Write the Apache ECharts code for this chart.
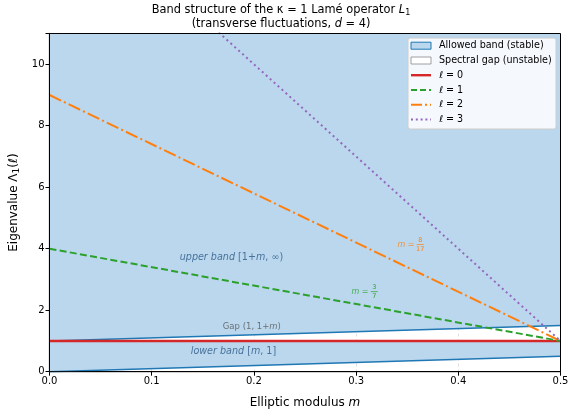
<!DOCTYPE html>
<html><head><meta charset="utf-8">
<script src="https://cdn.jsdelivr.net/npm/echarts@6/dist/echarts.min.js"></script>
<style>html,body{margin:0;padding:0;background:#fff}#c{width:569px;height:416px}</style>
</head><body><div id="c"></div>
<script>
// ---- data ----
const mSamples = [0, 0.5];           // elliptic modulus samples
const lowerEdge = [0, 0.5];          // lower band bottom  (= m)
const bandTop = [1, 1];              // lower band top (= 1)
const gapTop = [1, 1.5];             // upper band bottom (= 1+m)
const yTop = [11, 11];               // plot top
const ell0 = [1, 1];
const ell1 = [4, 1];
const ell2 = [9, 1];
const ell3 = [16, 1];
const xTicks = [0, 0.1, 0.2, 0.3, 0.4, 0.5];
const yTicks = [0, 2, 4, 6, 8, 10];
const annUpper = [0.178, 3.7];
const annLower = [0.18, 0.65];
const annGap = [0.198, 1.46];
const annM37 = [0.305, 2.58];
const annM817 = [0.35, 4.12];

const FONT = 'DejaVu Sans';
const pairs = (ys) => mSamples.map((x, i) => [x, ys[i]]);
const BLUE = '#1f77b4';
const FILL = 'rgb(186,215,237)';

const chart = echarts.init(document.getElementById('c'), null, {renderer: 'canvas'});

function textPoint(pos, text, style, z) {
  return {
    type: 'scatter', data: [pos], symbolSize: 0, z: z || 20, silent: true,
    label: Object.assign({show: true, position: 'inside', formatter: text,
      fontFamily: FONT}, style)
  };
}

function bandSeries(bottom, top) {
  return {
    type: 'custom', silent: true, z: 1, clip: true,
    data: [0],
    renderItem: function (params, api) {
      const pts = [];
      mSamples.forEach((x, i) => pts.push(api.coord([x, bottom[i]])));
      for (let i = mSamples.length - 1; i >= 0; i--) pts.push(api.coord([mSamples[i], top[i]]));
      return {type: 'polygon', shape: {points: pts}, style: {fill: FILL}};
    }
  };
}

const option = {
  animation: false,
  backgroundColor: '#fff',
  title: {
    text: 'Band structure of the κ = 1 Lamé operator {i|L}{s|1}\n(transverse fluctuations, {i|d} = 4)',
    left: 281, top: 3, padding: 0, textAlign: 'center',
    textStyle: {fontFamily: FONT, fontSize: 11.4, fontWeight: 'normal', color: '#000', lineHeight: 14,
      rich: {i: {fontFamily: FONT, fontSize: 11.4, fontStyle: 'italic', color: '#000'},
             s: {fontFamily: FONT, fontSize: 8, color: '#000', verticalAlign: 'bottom', padding: [5, 0, 0, 0]}}}
  },
  grid: {left: 49.5, right: 8.5, top: 33.5, bottom: 44.3, outerBoundsMode: 'none', containLabel: false,
    show: true, borderColor: '#000', borderWidth: 1, backgroundColor: 'transparent', z: 10},
  xAxis: {
    type: 'value', min: 0, max: 0.5, interval: 0.1,
    name: 'Elliptic modulus {i|m}', nameLocation: 'middle', nameGap: 25,
    nameTextStyle: {fontFamily: FONT, fontSize: 12, color: '#000',
      rich: {i: {fontFamily: FONT, fontSize: 12, fontStyle: 'italic', color: '#000'}}},
    axisLine: {show: true, onZero: false, lineStyle: {color: '#000', width: 1}},
    axisTick: {show: true, length: 4, lineStyle: {color: '#000'}},
    axisLabel: {fontFamily: FONT, fontSize: 10, color: '#000', margin: 5,
      formatter: v => xTicks.includes(+v.toFixed(2)) ? v.toFixed(1) : ''},
    splitLine: {show: true, lineStyle: {type: [3, 3], color: '#d8d8d8', width: 0.8}}
  },
  yAxis: {
    type: 'value', min: 0, max: 11, interval: 2,
    name: 'Eigenvalue Λ{s|1}({i|ℓ})', nameLocation: 'middle', nameGap: 27,
    nameTextStyle: {fontFamily: FONT, fontSize: 12, color: '#000',
      rich: {i: {fontFamily: FONT, fontSize: 12, fontStyle: 'italic', color: '#000'},
             s: {fontFamily: FONT, fontSize: 9, color: '#000', verticalAlign: 'bottom', padding: [6, 0, 0, 0]}}},
    axisLine: {show: true, onZero: false, lineStyle: {color: '#56687a', width: 1.3}},
    axisTick: {show: true, length: 4, lineStyle: {color: '#000'}},
    axisLabel: {fontFamily: FONT, fontSize: 10, color: '#000', margin: 5,
      formatter: v => yTicks.includes(v) ? String(v) : ''},
    splitLine: {show: true, lineStyle: {type: [3, 3], color: '#d8d8d8', width: 0.8}}
  },
  series: [
    bandSeries(lowerEdge, bandTop),
    bandSeries(gapTop, yTop),
    // band edges
    {type: 'line', data: pairs(lowerEdge), symbol: 'none', lineStyle: {color: BLUE, width: 1.5}, z: 3},
    {type: 'line', data: pairs(gapTop), symbol: 'none', lineStyle: {color: BLUE, width: 1.5}, z: 3},
    // ell curves
    {type: 'line', name: 'l0', data: pairs(ell0), symbol: 'none', lineStyle: {color: '#d62728', width: 2.6}, z: 5},
    {type: 'line', name: 'l1', data: pairs(ell1), symbol: 'none', clip: true, lineStyle: {color: '#2ca02c', width: 2, type: [7, 3.3]}, z: 6},
    {type: 'line', name: 'l2', data: pairs(ell2), symbol: 'none', clip: true, lineStyle: {color: '#ff7f0e', width: 2, type: [12.8, 3.2, 2, 3.2]}, z: 6},
    {type: 'line', name: 'l3', data: pairs(ell3), symbol: 'none', clip: true, lineStyle: {color: '#9467bd', width: 2, type: [2, 3.3]}, z: 6},
    // annotations
    textPoint(annUpper, '{i|upper band} [1+{i|m}, ∞)', {fontSize: 9.6, color: '#2a5886',
      rich: {i: {fontFamily: FONT, fontSize: 9.6, fontStyle: 'italic', color: '#2a5886'}}}),
    textPoint(annLower, '{i|lower band} [{i|m}, 1]', {fontSize: 9.6, color: '#2a5886',
      rich: {i: {fontFamily: FONT, fontSize: 9.6, fontStyle: 'italic', color: '#2a5886'}}}),
    textPoint(annGap, 'Gap (1, 1+{i|m})', {fontSize: 8.5, color: '#555',
      rich: {i: {fontFamily: FONT, fontSize: 8.5, fontStyle: 'italic', color: '#555'}}}),
    textPoint(annM37, '{i|m} = ', {fontSize: 8, color: '#2ca02c',
      rich: {i: {fontFamily: FONT, fontSize: 8, fontStyle: 'italic', color: '#2ca02c'}}}),
    textPoint(annM817, '{i|m} = ', {fontSize: 8, color: '#ff7f0e',
      rich: {i: {fontFamily: FONT, fontSize: 8, fontStyle: 'italic', color: '#ff7f0e'}}})
  ],
  graphic: []
};
chart.setOption(option);

function fracGraphic(pos, num, den, color) {
  const p = chart.convertToPixel({gridIndex: 0}, pos);
  const x = p[0] + 13;
  return [
    {type: 'text', x: x, y: p[1] - 1.5, style: {text: num, fontFamily: FONT, fontSize: 6.5, fill: color, align: 'center', verticalAlign: 'bottom'}, z: 30},
    {type: 'rect', shape: {x: x - 3.5, y: p[1] - 1, width: 7, height: 0.7}, style: {fill: color}, z: 30},
    {type: 'text', x: x, y: p[1] + 0.5, style: {text: den, fontFamily: FONT, fontSize: 6.5, fill: color, align: 'center', verticalAlign: 'top'}, z: 30}
  ];
}

// legend
const LX = 408, LY = 38, LW = 148, LH = 91;
const rowY = [45.7, 60.5, 75.2, 90.0, 104.7, 119.4];
const ix0 = 411, ix1 = 431, tx = 439;
const legendTexts = ['Allowed band (stable)', 'Spectral gap (unstable)', 'ℓ = 0', 'ℓ = 1', 'ℓ = 2', 'ℓ = 3'];
const g = [];
g.push({type: 'rect', shape: {x: LX, y: LY, width: LW, height: LH, r: 2}, style: {fill: 'rgba(255,255,255,0.85)', stroke: '#ccc', lineWidth: 1}, z: 40});
g.push({type: 'rect', shape: {x: ix0, y: rowY[0] - 3.5, width: ix1 - ix0, height: 7}, style: {fill: FILL, stroke: BLUE, lineWidth: 1}, z: 41});
g.push({type: 'rect', shape: {x: ix0, y: rowY[1] - 3.5, width: ix1 - ix0, height: 7}, style: {fill: '#fff', stroke: '#888', lineWidth: 0.8}, z: 41});
const lineDefs = [
  {c: '#d62728', w: 2.4, d: null},
  {c: '#2ca02c', w: 2, d: [6, 3]},
  {c: '#ff7f0e', w: 2, d: [11, 3, 2, 3]},
  {c: '#9467bd', w: 2, d: [2, 2.8]}
];
lineDefs.forEach((L, k) => {
  g.push({type: 'line', shape: {x1: ix0, y1: rowY[k + 2], x2: ix1, y2: rowY[k + 2]},
    style: {stroke: L.c, lineWidth: L.w, lineDash: L.d}, z: 41});
});
legendTexts.forEach((t, k) => {
  g.push({type: 'text', x: tx, y: rowY[k], style: {text: t, fontFamily: FONT, fontSize: 9.6, fill: '#000', verticalAlign: 'middle'}, z: 41});
});
const frac = fracGraphic(annM37, '3', '7', '#2ca02c').concat(fracGraphic(annM817, '8', '17', '#ff7f0e'));
chart.setOption({graphic: g.concat(frac)});
</script>
</body></html>
